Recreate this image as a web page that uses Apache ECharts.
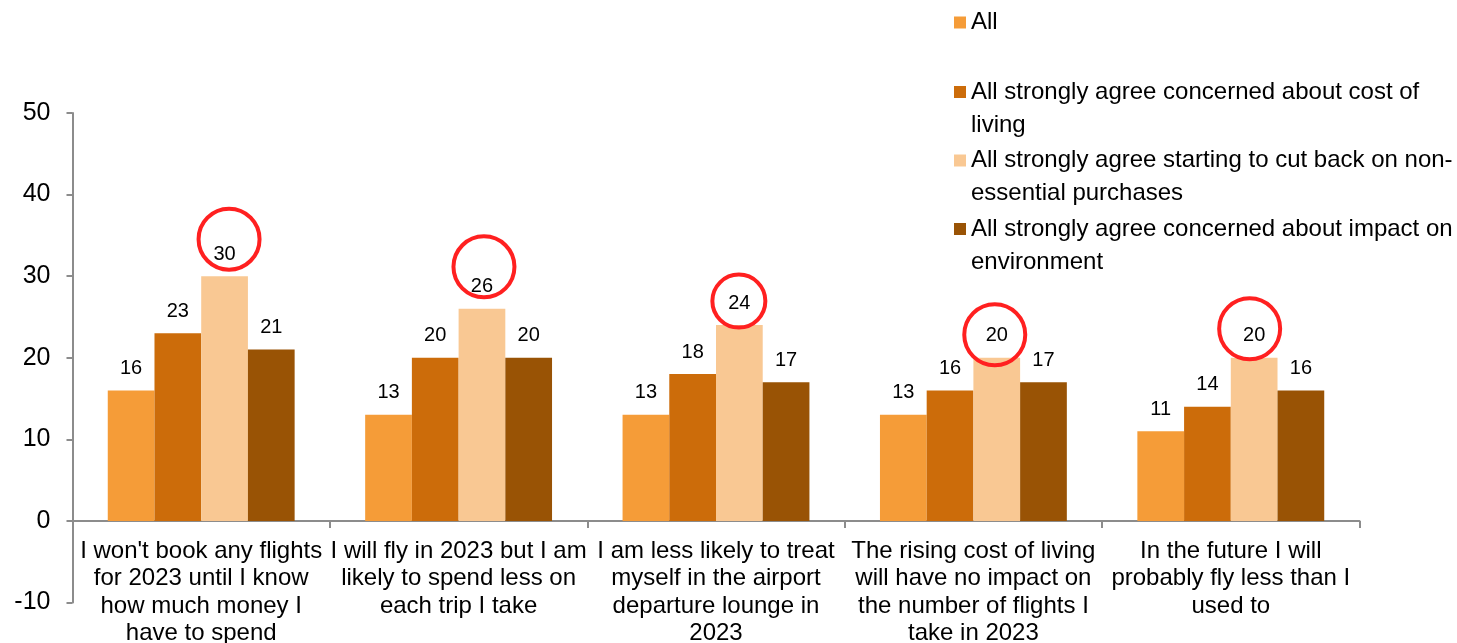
<!DOCTYPE html>
<html>
<head>
<meta charset="utf-8">
<script src="https://cdn.jsdelivr.net/npm/echarts@6/dist/echarts.min.js"></script>
<style>
  html, body { margin: 0; padding: 0; background: #fff; }
  #chart { width: 1457px; height: 643px; }
</style>
</head>
<body>
<div id="chart"></div>
<script>
// categories (wrapped as in the slide)
const categories = [
    "I won't book any flights\nfor 2023 until I know\nhow much money I\nhave to spend",
    'I will fly in 2023 but I am\nlikely to spend less on\neach trip I take',
    'I am less likely to treat\nmyself in the airport\ndeparture lounge in\n2023',
    'The rising cost of living\nwill have no impact on\nthe number of flights I\ntake in 2023',
    'In the future I will\nprobably fly less than I\nused to'
];

const seriesNames = [
    'All',
    'All strongly agree concerned about cost of living',
    'All strongly agree starting to cut back on non-essential purchases',
    'All strongly agree concerned about impact on environment'
];
// legend text with the same line breaks as the original
const legendLabels = [
    'All',
    'All strongly agree concerned about cost of\nliving',
    'All strongly agree starting to cut back on non-\nessential purchases',
    'All strongly agree concerned about impact on\nenvironment'
];

const allValues = [16, 13, 13, 13, 11];
const costOfLivingValues = [23, 20, 18, 16, 14];
const cutBackValues = [30, 26, 24, 20, 20];
const environmentValues = [21, 20, 17, 17, 16];

const yMin = -10;
const yMax = 50;
const yStep = 10;

// red circles drawn round the highest bar of each group (hand placed in the original)
const circleOffsets = [[4.5, -37], [2, -42], [-0.5, -24], [-2, -23], [-4.5, -29]];
const circleSizes = [61, 61, 53, 61, 61];

const colors = ['#F59C38', '#CC6C0A', '#F9C893', '#995305'];
const font = "'Liberation Sans', Arial, sans-serif";

const seriesData = [allValues, costOfLivingValues, cutBackValues, environmentValues];

const gridTop = 113;
const gridBottom = 40.5;
const chartH = 643;
// distance from the bottom of the grid up to the zero line
const zeroShift = (chartH - gridTop - gridBottom) * (0 - yMin) / (yMax - yMin);

let series = seriesData.map((vals, i) => ({
    name: seriesNames[i],
    type: 'bar',
    data: vals,
    barGap: '0%',
    barCategoryGap: '27.4%',
    itemStyle: { color: colors[i] },
    label: {
        show: true,
        position: 'top',
        distance: 12,
        color: '#000',
        fontSize: 20,
        fontFamily: font
    }
}));

// circles on the "cut back" series
series[2].markPoint = {
    symbol: 'circle',
    silent: true,
    itemStyle: { color: 'rgba(0,0,0,0)', borderColor: '#FF2020', borderWidth: 4 },
    label: { show: false },
    data: cutBackValues.map((v, i) => ({
        coord: [i, v],
        symbolSize: circleSizes[i],
        symbolOffset: circleOffsets[i]
    }))
};

// one legend per item; an empty first line keeps the icon on the first text line
const legendIconY = [20.5, 90, 158.5, 227];
const lineH = 33;
let legends = seriesNames.map((name, i) => {
    const lines = legendLabels[i].split('\n').length;
    const text = lines > 1 ? '\n' + legendLabels[i] : legendLabels[i];
    const blockH = (lines > 1 ? lines + 1 : lines) * lineH;
    return {
        show: true,
        data: [name],
        left: 954,
        top: legendIconY[i] - blockH / 2 + 2,
        padding: 0,
        itemWidth: 12,
        itemHeight: 12,
        icon: 'rect',
        selectedMode: false,
        formatter: () => text,
        textStyle: {
            fontSize: 24,
            fontFamily: font,
            color: '#000',
            lineHeight: lineH
        }
    };
});

let option = {
    backgroundColor: '#fff',
    animation: false,
    legend: legends,
    grid: {
        left: 72.5, right: 97.5, top: gridTop, bottom: gridBottom,
        containLabel: false,
        outerBoundsMode: 'none'
    },
    xAxis: {
        type: 'category',
        data: categories,
        offset: -zeroShift,
        axisLine: { onZero: false, lineStyle: { color: '#8C8C8C', width: 2 } },
        axisTick: { show: true, length: 7, lineStyle: { color: '#8C8C8C', width: 2 } },
        axisLabel: {
            interval: 0,
            margin: 17,
            color: '#000',
            fontSize: 24,
            lineHeight: 27.3,
            fontFamily: font
        }
    },
    yAxis: {
        type: 'value',
        min: yMin,
        max: yMax,
        interval: yStep,
        splitLine: { show: false },
        axisLine: { show: true, lineStyle: { color: '#8C8C8C', width: 2 } },
        axisTick: { show: true, length: 6, lineStyle: { color: '#8C8C8C', width: 2 } },
        axisLabel: {
            margin: 22,
            color: '#000',
            fontSize: 25,
            fontFamily: font
        }
    },
    series: series
};

let myChart = echarts.init(document.getElementById('chart'));
myChart.setOption(option);
</script>
</body>
</html>
